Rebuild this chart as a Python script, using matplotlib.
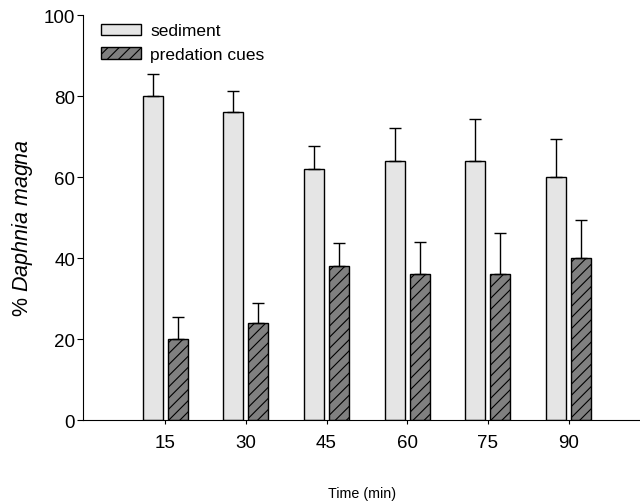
import numpy as np
import matplotlib.pyplot as plt
import matplotlib as mpl

mpl.rcParams['font.family'] = ['Liberation Sans', 'DejaVu Sans']
mpl.rcParams['mathtext.fontset'] = 'custom'
mpl.rcParams['mathtext.rm'] = 'Liberation Sans'
mpl.rcParams['mathtext.it'] = 'Liberation Sans:italic'
mpl.rcParams['hatch.linewidth'] = 0.8

times = ['15', '30', '45', '60', '75', '90']
sediment = [80, 76, 62, 64, 64, 60]
sediment_se = [5.5, 5.2, 5.7, 8.0, 10.3, 9.4]
predation = [20, 24, 38, 36, 36, 40]
predation_se = [5.4, 4.9, 5.8, 8.0, 10.2, 9.5]

x = np.arange(len(times))
w = 0.25
off = 0.155

fig = plt.figure(figsize=(6.4, 5.02), dpi=100)
ax = fig.add_axes([0.130, 0.161, 0.87, 0.807])

# only the upper half of each error bar is drawn
err_kw = dict(ecolor='black', elinewidth=1, capsize=4, capthick=1)
ax.bar(x - off, sediment, w, color='#e5e5e5', edgecolor='black', linewidth=1,
       yerr=[np.zeros(len(x)), sediment_se], error_kw=err_kw, label='sediment')
ax.bar(x + off, predation, w, color='#808080', edgecolor='black', linewidth=1,
       hatch='///', yerr=[np.zeros(len(x)), predation_se], error_kw=err_kw,
       label='predation cues')

ax.set_xlim(-1.016, 5.886)
ax.set_ylim(0, 100)
ax.set_xticks(x)
ax.set_xticklabels(times, fontsize=13.5)
ax.set_yticks(np.arange(0, 101, 20))
ax.tick_params(axis='y', labelsize=13.5, direction='out', length=4.3, pad=1.5)
ax.tick_params(axis='x', direction='out', length=3, pad=7)
ax.spines['top'].set_visible(False)
ax.spines['right'].set_visible(False)

ax.set_xlabel('Time (min)', fontsize=10.3, labelpad=25)
ax.set_ylabel('% $\\it{Daphnia\\ magna}$', fontsize=15.5)
ax.yaxis.set_label_coords(-0.086, 0.4765)

ax.legend(loc='upper left', bbox_to_anchor=(0.014, 1.005), frameon=False,
          fontsize=12.5, handlelength=2.3, handleheight=0.63,
          handletextpad=0.52, labelspacing=0.5, borderaxespad=0.2)

fig.savefig('out.png', dpi=100)
